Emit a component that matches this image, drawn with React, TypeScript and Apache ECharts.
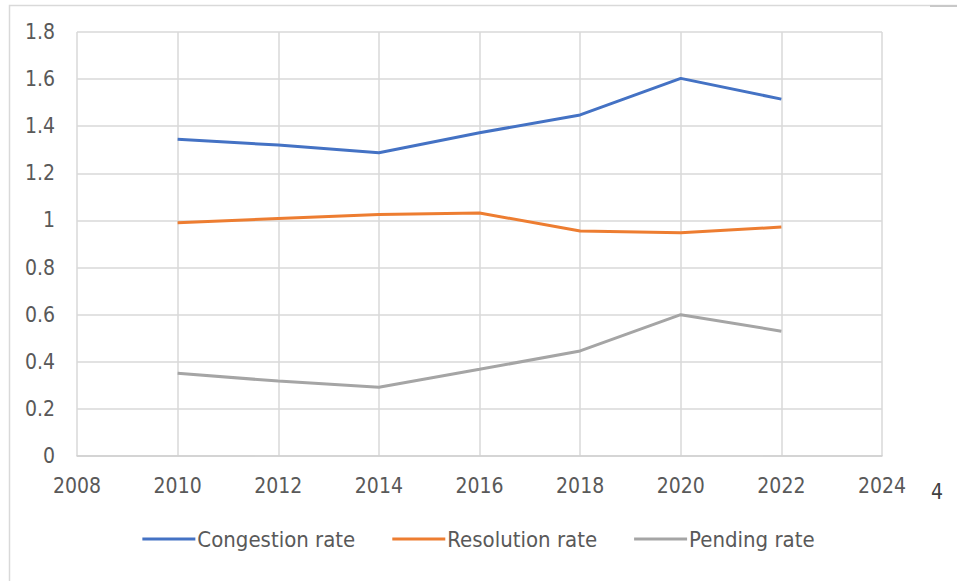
import React, { useEffect, useRef } from "react";
import * as echarts from "echarts";

const years = [2010, 2012, 2014, 2016, 2018, 2020, 2022];
const congestionRate = [1.345, 1.32, 1.287, 1.372, 1.448, 1.603, 1.515];
const resolutionRate = [0.99, 1.008, 1.025, 1.032, 0.955, 0.948, 0.972];
const pendingRate = [0.351, 0.318, 0.292, 0.368, 0.446, 0.6, 0.53];
const seriesNames = ["Congestion rate", "Resolution rate", "Pending rate"];
const seriesColors = ["#4472C4", "#ED7D31", "#A5A5A5"];

const FONT = "'Liberation Sans Narrow', 'DejaVu Sans Condensed', 'Liberation Sans', sans-serif";

export default function App() {
  const ref = useRef<HTMLDivElement>(null);
  useEffect(() => {
    document.body.style.margin = "0";
    const chart = echarts.init(ref.current!, undefined, { renderer: "svg" });
    const values = [congestionRate, resolutionRate, pendingRate];
    chart.setOption({
      animation: false,
      backgroundColor: "#ffffff",
      grid: { left: 77, right: 75, top: 32, bottom: 125 },
      xAxis: {
        type: "value",
        min: 2008,
        max: 2024,
        interval: 2,
        axisLine: { show: true, lineStyle: { color: "#d0d0d0", width: 1.5 } },
        axisTick: { show: false },
        splitLine: { show: true, lineStyle: { color: "#d9d9d9", width: 1.5 } },
        axisLabel: {
          formatter: (v: number) => String(v),
          color: "#595959",
          fontFamily: FONT,
          fontSize: 21,
          margin: 19,
        },
      },
      yAxis: {
        type: "value",
        min: 0,
        max: 1.8,
        interval: 0.2,
        axisLine: { show: false },
        axisTick: { show: false },
        splitLine: { show: true, lineStyle: { color: "#d9d9d9", width: 1.5 } },
        axisLabel: {
          formatter: (v: number) => String(Math.round(v * 10) / 10),
          color: "#595959",
          fontFamily: FONT,
          fontSize: 21,
          margin: 22,
        },
      },
      legend: {
        bottom: 26,
        left: "center",
        itemWidth: 53,
        itemHeight: 3,
        itemGap: 37,
        icon: "rect",
        textStyle: {
          color: "#595959",
          fontFamily: FONT,
          fontSize: 22,
          padding: [0, 0, 0, -3],
        },
        data: seriesNames,
      },
      series: seriesNames.map((name, i) => ({
        name,
        type: "line",
        data: years.map((y, j) => [y, values[i][j]]),
        showSymbol: false,
        symbol: "none",
        lineStyle: { color: seriesColors[i], width: 3 },
        itemStyle: { color: seriesColors[i] },
      })),
      graphic: [
        {
          type: "rect",
          shape: { x: 9.5, y: 5.5, width: 1200, height: 1200 },
          style: { fill: "none", stroke: "#d9d9d9", lineWidth: 1.5 },
          silent: true,
        },
        {
          type: "line",
          shape: { x1: 930, y1: 6, x2: 957, y2: 6 },
          style: { stroke: "#c8c8c8", lineWidth: 2 },
          silent: true,
        },
        {
          type: "text",
          x: 931,
          y: 481,
          style: {
            text: "4",
            fill: "#404040",
            fontFamily: FONT,
            fontSize: 21,
          },
        },
      ],
    });
    return () => chart.dispose();
  }, []);
  return (
    <div
      ref={ref}
      style={{ position: "fixed", left: 0, top: 0, width: 957, height: 581 }}
    />
  );
}
